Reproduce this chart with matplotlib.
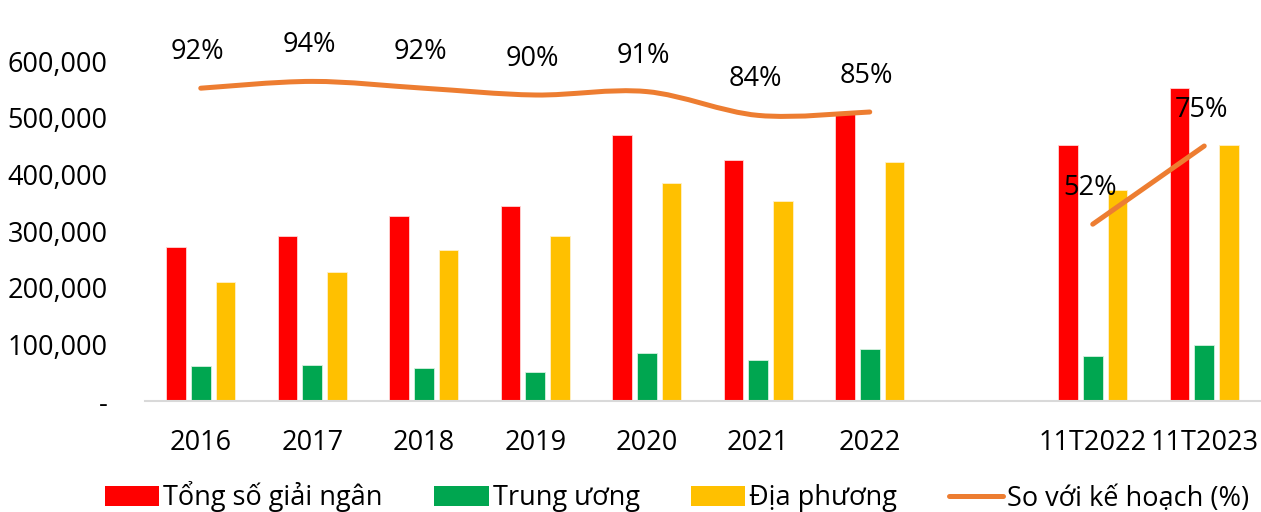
import matplotlib
matplotlib.use('Agg')
import matplotlib.pyplot as plt
from matplotlib.path import Path
from matplotlib.patches import PathPatch, Patch
from matplotlib.lines import Line2D
from matplotlib.ticker import FuncFormatter
import numpy as np

plt.rcParams['font.family'] = ['Open Sans', 'DejaVu Sans']

categories = ['2016', '2017', '2018', '2019', '2020', '2021', '2022', '', '11T2022', '11T2023']
total = [272000, 291000, 326000, 344000, 469000, 425000, 510000, np.nan, 452000, 552000]
central = [62000, 64000, 58000, 51000, 85000, 72000, 92000, np.nan, 79000, 99000]
local = [210000, 228000, 266000, 291000, 385000, 353000, 422000, np.nan, 372000, 452000]
pct_years = [0.92, 0.94, 0.92, 0.90, 0.91, 0.84, 0.85]
pct_11t = [0.52, 0.75]
pct_years_idx = [0, 1, 2, 3, 4, 5, 6]
pct_11t_idx = [8, 9]

RED, GREEN, YELLOW, ORANGE = '#FF0000', '#00A650', '#FFC000', '#ED7D31'
FS = 19.5

fig = plt.figure(figsize=(12.61, 5.12), dpi=100)
ax = fig.add_axes([145/1261, 1-401/512, 1115/1261, 340/512])
x = np.arange(len(categories))
w = 0.175
off = 0.222
ax.bar(x - off, total, w, color=RED, edgecolor='#ffd6d6', linewidth=0.6)
ax.bar(x, central, w, color=GREEN, edgecolor='#d6f0e0', linewidth=0.6)
ax.bar(x + off, local, w, color=YELLOW, edgecolor='#fff0c8', linewidth=0.6)

ax.set_xlim(-0.5, len(categories) - 0.5)
ax.set_ylim(0, 600000)
ax.set_yticks(np.arange(0, 600001, 100000))
ax.yaxis.set_major_formatter(FuncFormatter(lambda v, p: '-' if v == 0 else f'{v:,.0f}'))
ax.set_xticks(x)
ax.set_xticklabels(categories)
ax.tick_params(axis='both', length=0, labelsize=FS)
ax.tick_params(axis='y', pad=27)
ax.tick_params(axis='x', pad=20)
for s in ['left', 'right', 'top']:
    ax.spines[s].set_visible(False)
ax.spines['bottom'].set_color('#d9d9d9')
ax.spines['bottom'].set_linewidth(1.5)

ax2 = ax.twinx()
ax2.set_ylim(0, 1.0)
ax2.set_axis_off()


def smooth_path(xs, ys):
    xs = list(xs); ys = list(ys)
    n = len(xs)
    P = [(xs[i], ys[i]) for i in range(n)]
    verts = [P[0]]
    codes = [Path.MOVETO]
    for i in range(n - 1):
        p0 = P[i - 1] if i > 0 else P[i]
        p1 = P[i]
        p2 = P[i + 1]
        p3 = P[i + 2] if i + 2 < n else P[i + 1]
        c1 = (p1[0] + (p2[0] - p0[0]) / 6, p1[1] + (p2[1] - p0[1]) / 6)
        c2 = (p2[0] - (p3[0] - p1[0]) / 6, p2[1] - (p3[1] - p1[1]) / 6)
        verts += [c1, c2, p2]
        codes += [Path.CURVE4] * 3
    return Path(verts, codes)


for idx, vals in [(pct_years_idx, pct_years), (pct_11t_idx, pct_11t)]:
    patch = PathPatch(smooth_path(idx, vals), facecolor='none', edgecolor=ORANGE,
                      linewidth=3.6, capstyle='round', joinstyle='round')
    ax2.add_patch(patch)
    for xi, v in zip(idx, vals):
        ax2.annotate(f'{v*100:.0f}%', (xi, v), xytext=(-3, 36), textcoords='offset pixels',
                     ha='center', va='center', fontsize=FS, color='black')

handles = [Patch(facecolor=RED), Patch(facecolor=GREEN), Patch(facecolor=YELLOW),
           Line2D([0], [0], color=ORANGE, linewidth=3.6, solid_capstyle='round')]
labels = ['Tổng số giải ngân', 'Trung ương', 'Địa phương', 'So với kế hoạch (%)']
fig.legend(handles, labels, loc='center', bbox_to_anchor=(0.537, 1-497/512), ncol=4,
           frameon=False, fontsize=FS, handlelength=2.0, handleheight=0.75,
           handletextpad=0.15, columnspacing=1.9, borderaxespad=0)

fig.savefig('out.png', dpi=100)
